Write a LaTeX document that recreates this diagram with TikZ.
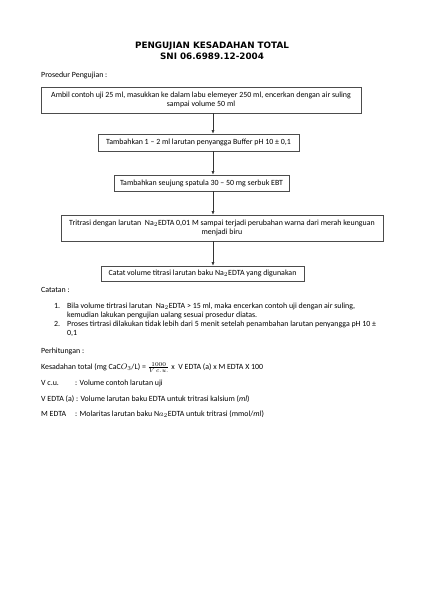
\documentclass[tikz,border=0pt]{standalone}
\usepackage{fontspec}
\setmainfont{Carlito}
\newfontfamily\judulfont{DejaVu Sans}
\usetikzlibrary{arrows.meta}
\newcommand{\ukuran}{\fontsize{7.9}{9.5}\selectfont}

\begin{document}
\begin{tikzpicture}[x=1pt,y=-1pt,
  kotak/.style={draw=black!70, line width=0.6pt, inner sep=0pt, align=center, font=\ukuran},
  baris/.style={anchor=base west, inner sep=0pt, font=\ukuran},
  panah/.style={-{Latex[length=3.5pt,width=3pt]}, line width=0.6pt, black!80}]
\useasboundingbox (0,0) rectangle (425,600);

% judul
\node[font=\judulfont\bfseries\fontsize{8.8}{10.5}\selectfont, align=center] (judul) at (212,51) {PENGUJIAN KESADAHAN TOTAL\\SNI 06.6989.12-2004};
\node[baris] (prosedur) at (41,77.5) {Prosedur Pengujian :};

% kotak
\node[kotak, minimum width=320pt, minimum height=26pt] (b1) at (201,100) {Ambil contoh uji 25 ml, masukkan ke dalam labu elemeyer 250 ml, encerkan dengan air suling\\sampai volume 50 ml};
\node[kotak, minimum width=201pt, minimum height=17pt] (b2) at (198.5,142.5) {Tambahkan 1 – 2 ml larutan penyangga Buffer pH 10 ± 0,1};
\node[kotak, minimum width=175pt, minimum height=16pt] (b3) at (201.5,183) {Tambahkan seujung spatula 30 – 50 mg serbuk EBT};
\node[kotak, minimum width=322pt, minimum height=26pt] (b4) at (222,228) {Tritrasi dengan larutan\ \ Na$_2$EDTA 0,01 M sampai terjadi perubahan warna dari merah keunguan\\menjadi biru};
\node[kotak, minimum width=203pt, minimum height=15pt] (b5) at (202.5,273.5) {Catat volume titrasi larutan baku Na$_2$EDTA yang digunakan};

% panah
\coordinate (sumbu) at (213,0);
\draw[panah] (b1.south -| sumbu) -- (b2.north -| sumbu);
\draw[panah] (b2.south -| sumbu) -- (b3.north -| sumbu);
\draw[panah] (b3.south -| sumbu) -- (b4.north -| sumbu);
\draw[panah] (b4.south -| sumbu) -- (b5.north -| sumbu);

% catatan
\node[baris] (catatan) at (41,292.5) {Catatan :};
\node[baris] (n1) at (54,308.5) {1.};
\node[baris] (c1a) at (67,308.5) {Bila volume tirtrasi larutan\ \ Na$_2$EDTA > 15 ml,\ maka encerkan contoh uji dengan air suling,};
\node[baris] (c1b) at (67,317) {kemudian lakukan pengujian ualang sesuai prosedur diatas.};
\node[baris] (n2) at (54,326.5) {2.};
\node[baris] (c2a) at (67,326.5) {Proses tirtrasi dilakukan tidak lebih dari 5 menit setelah penambahan larutan penyangga pH 10 ±};
\node[baris] (c2b) at (67,335.5) {0,1};

% perhitungan
\node[baris] (hitung) at (41,353.5) {Perhitungan :};
\node[baris] (rumus) at (41,369.5) {Kesadahan total (mg CaC$O_3$/L) = $\frac{1000}{V\,c.u.}$ x\ \ V EDTA (a) x M EDTA X 100};
\node[baris] (k1) at (41,385.5) {V c.u.};
\node[baris] (k1r) at (75,385.5) {: Volume contoh larutan uji};
\node[baris] (k2) at (41,401.5) {V EDTA (a) : Volume larutan baku EDTA untuk tritrasi kalsium (\textit{ml})};
\node[baris] (k3) at (41,416.5) {M EDTA};
\node[baris] (k3r) at (75,416.5) {: Molaritas larutan baku N$a_2$EDTA untuk tritrasi (mmol/\textit{ml})};

\end{tikzpicture}
\end{document}
